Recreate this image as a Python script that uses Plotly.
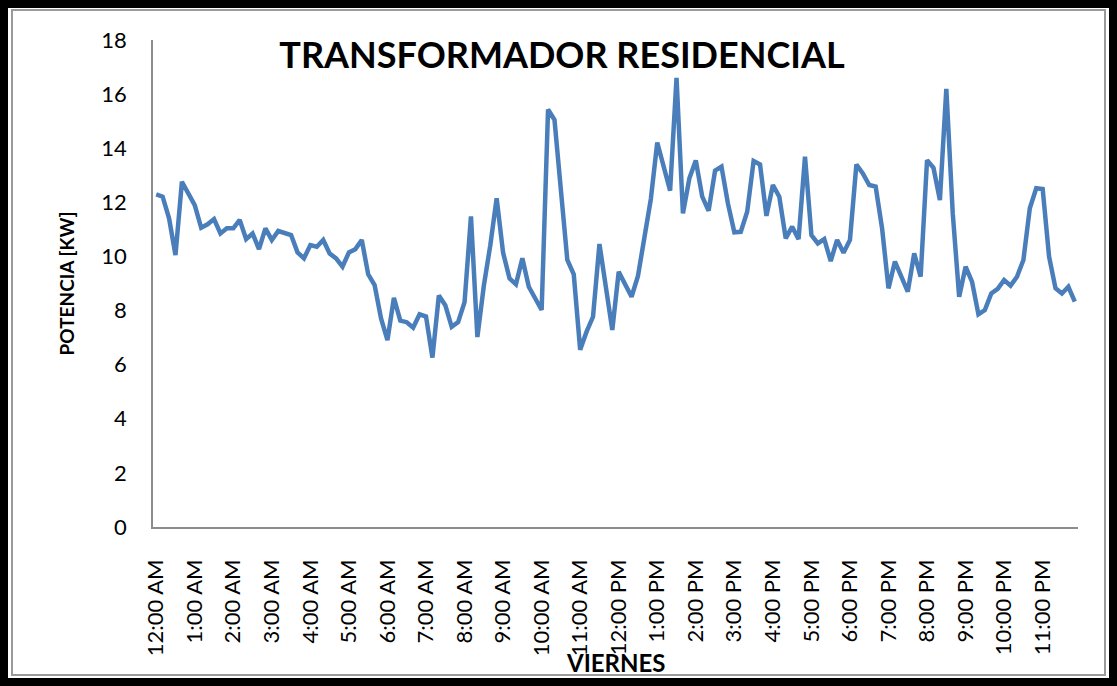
import plotly.graph_objects as go

# 10-minute samples over one day (Friday)
minutes = list(range(0, 1440, 10))

potencia_kw = [
    12.29, 12.21, 11.41, 10.05, 12.76, 12.33, 11.90, 11.06, 11.19, 11.38,
    10.85, 11.04, 11.04, 11.35, 10.64, 10.85, 10.27, 11.04, 10.61, 10.94,
    10.85, 10.79, 10.15, 9.93, 10.42, 10.36, 10.61, 10.11, 9.93, 9.62,
    10.15, 10.27, 10.61, 9.34, 8.94, 7.71, 6.91, 8.47, 7.63, 7.57,
    7.37, 7.86, 7.78, 6.26, 8.56, 8.20, 7.40, 7.57, 8.31, 11.48,
    7.02, 8.91, 10.40, 12.15, 10.14, 9.19, 8.97, 9.93, 8.88, 8.45,
    8.02, 15.43, 15.05, 12.45, 9.87, 9.34, 6.55, 7.22, 7.77, 10.46,
    8.80, 7.28, 9.43, 8.94, 8.51, 9.28, 10.76, 12.12, 14.21, 13.32,
    12.43, 16.60, 11.59, 12.89, 13.55, 12.21, 11.69, 13.17, 13.32, 11.96,
    10.89, 10.91, 11.65, 13.53, 13.40, 11.50, 12.64, 12.21, 10.67, 11.10,
    10.64, 13.69, 10.79, 10.48, 10.64, 9.83, 10.61, 10.14, 10.61, 13.40,
    13.07, 12.64, 12.58, 11.04, 8.82, 9.81, 9.25, 8.70, 10.11, 9.25,
    13.56, 13.28, 12.08, 16.19, 11.60, 8.51, 9.62, 9.07, 7.86, 8.02,
    8.63, 8.80, 9.13, 8.92, 9.25, 9.87, 11.78, 12.52, 12.49, 9.99,
    8.82, 8.63, 8.88, 8.33,
]

tick_minutes = list(range(0, 1440, 60))
tick_labels = [
    "12:00 AM", "1:00 AM", "2:00 AM", "3:00 AM", "4:00 AM", "5:00 AM",
    "6:00 AM", "7:00 AM", "8:00 AM", "9:00 AM", "10:00 AM", "11:00 AM",
    "12:00 PM", "1:00 PM", "2:00 PM", "3:00 PM", "4:00 PM", "5:00 PM",
    "6:00 PM", "7:00 PM", "8:00 PM", "9:00 PM", "10:00 PM", "11:00 PM",
]
y_ticks = [0, 2, 4, 6, 8, 10, 12, 14, 16, 18]

W, H = 1117, 686
L, R, T, B = 153, 39, 40, 159
PW, PH = W - L - R, H - T - B


def px(x):
    return (x - L) / PW


def py(y):
    return (H - B - y) / PH


FONT = "Lato, 'Open Sans', sans-serif"

fig = go.Figure()
fig.add_trace(go.Scatter(
    x=minutes, y=potencia_kw, mode="lines",
    line=dict(color="#4a7ebb", width=4.5),
    showlegend=False, hoverinfo="x+y",
))

fig.update_layout(
    width=W, height=H,
    margin=dict(l=L, r=R, t=T, b=B),
    paper_bgcolor="white", plot_bgcolor="white",
    font=dict(family=FONT, size=22, color="black"),
    title=dict(text="<b>TRANSFORMADOR RESIDENCIAL</b>",
               x=px(562), xanchor="center", xref="paper",
               y=1 - 55 / H, yanchor="middle",
               font=dict(size=36, color="black", family=FONT)),
    xaxis=dict(
        range=[-5, 1435], tickmode="array", tickvals=tick_minutes,
        ticktext=tick_labels, tickangle=-90, showgrid=False, zeroline=False,
        showline=True, linecolor="#8c8c8c", linewidth=1.5, ticks="",
        ticklabelstandoff=22,
        tickfont=dict(size=22, family=FONT),
    ),
    yaxis=dict(
        range=[0, 18], tickmode="array", tickvals=y_ticks,
        showgrid=False, zeroline=False, showline=True,
        linecolor="#8c8c8c", linewidth=1.5, ticks="",
        ticklabelstandoff=20,
        tickfont=dict(size=22, family=FONT),
        title=dict(text="<b>POTENCIA [KW]</b>", standoff=22,
                   font=dict(size=19, family=FONT)),
    ),
    annotations=[
        dict(text="<b>VIERNES</b>", xref="paper", yref="paper",
             x=px(615), y=py(662), xanchor="center", yanchor="middle",
             showarrow=False, font=dict(size=24, family=FONT, color="black")),
    ],
    shapes=[
        dict(type="rect", xref="paper", yref="paper",
             x0=px(4), x1=px(W - 4), y0=py(H - 4), y1=py(4),
             line=dict(color="black", width=8), layer="above"),
        dict(type="rect", xref="paper", yref="paper",
             x0=px(12), x1=px(W - 12), y0=py(H - 11), y1=py(10),
             line=dict(color="#9a9a9a", width=2), layer="above"),
    ],
)

fig.write_html("out.html", config={"displayModeBar": False},
               post_script="document.body.style.margin='0';")
